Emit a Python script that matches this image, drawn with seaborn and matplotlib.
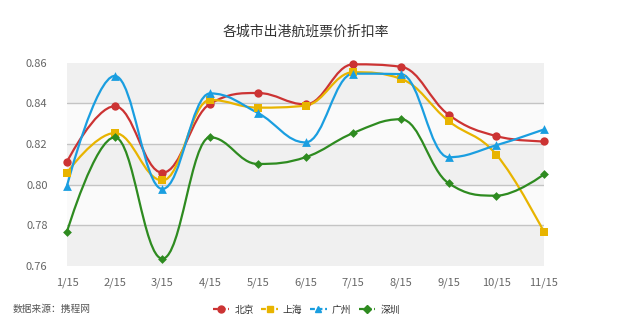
import numpy as np
import pandas as pd
import seaborn as sns
import matplotlib
matplotlib.use("Agg")
import matplotlib.pyplot as plt
from matplotlib.path import Path
from matplotlib.patches import PathPatch
from matplotlib.lines import Line2D

# ---- data -------------------------------------------------------------
months = ["1/15", "2/15", "3/15", "4/15", "5/15", "6/15",
          "7/15", "8/15", "9/15", "10/15", "11/15"]
cities = ["北京", "上海", "广州", "深圳"]
beijing = [0.8113, 0.8386, 0.8059, 0.8398, 0.8451, 0.8395,
           0.8592, 0.8580, 0.8344, 0.8239, 0.8213]
shanghai = [0.8059, 0.8254, 0.8021, 0.8417, 0.8379, 0.8389,
            0.8553, 0.8521, 0.8313, 0.8148, 0.7767]
guangzhou = [0.7994, 0.8535, 0.7979, 0.8449, 0.8353, 0.8208,
             0.8546, 0.8544, 0.8135, 0.8194, 0.8272]
shenzhen = [0.7769, 0.8233, 0.7636, 0.8233, 0.8102, 0.8135,
            0.8254, 0.8322, 0.8007, 0.7946, 0.8051]
y_ticks = [0.76, 0.78, 0.80, 0.82, 0.84, 0.86]

series = dict(zip(cities, [beijing, shanghai, guangzhou, shenzhen]))
colors = {"北京": "#cc3333", "上海": "#e8b400", "广州": "#1a9ee0", "深圳": "#2e8b20"}
markers = {"北京": "o", "上海": "s", "广州": "^", "深圳": "D"}
msize = {"北京": 36, "上海": 34, "广州": 40, "深圳": 20}

df = pd.DataFrame(
    [(i, m, c, v) for c in cities for i, (m, v) in enumerate(zip(months, series[c]))],
    columns=["idx", "month", "city", "rate"],
)

# ---- style ------------------------------------------------------------
sns.set_theme(style="white")
plt.rcParams["font.family"] = ["Noto Sans CJK SC", "DejaVu Sans"]


def spline_path(xs, ys, smoothing=1.5):
    """Smooth cubic Bezier path through the points (no overshoot)."""
    n = len(xs)
    denom = smoothing + 1
    right = [None] * n
    verts = [(xs[0], ys[0])]
    codes = [Path.MOVETO]
    for i in range(1, n):
        px, py = xs[i], ys[i]
        lcx, lcy = px, py
        if i < n - 1:
            lx, ly = xs[i - 1], ys[i - 1]
            nx, ny = xs[i + 1], ys[i + 1]
            lcx = (smoothing * px + lx) / denom
            lcy = (smoothing * py + ly) / denom
            rcx = (smoothing * px + nx) / denom
            rcy = (smoothing * py + ny) / denom
            corr = 0.0
            if rcx != lcx:
                corr = (rcy - lcy) * (rcx - px) / (rcx - lcx) + py - rcy
            lcy += corr
            rcy += corr
            if lcy > ly and lcy > py:
                lcy = max(ly, py)
                rcy = 2 * py - lcy
            elif lcy < ly and lcy < py:
                lcy = min(ly, py)
                rcy = 2 * py - lcy
            if rcy > ny and rcy > py:
                rcy = max(ny, py)
                lcy = 2 * py - rcy
            elif rcy < ny and rcy < py:
                rcy = min(ny, py)
                lcy = 2 * py - rcy
            right[i] = (rcx, rcy)
        prev = right[i - 1] if right[i - 1] is not None else (xs[i - 1], ys[i - 1])
        verts += [prev, (lcx, lcy), (px, py)]
        codes += [Path.CURVE4] * 3
    return Path(verts, codes)


fig = plt.figure(figsize=(6.25, 3.35), dpi=100)
ax = fig.add_axes([0.1072, 0.206, 0.7632, 0.6068])

# alternating horizontal bands
band_cols = ["#f0f0f0", "#fafafa", "#f0f0f0", "#fafafa", "#f0f0f0"]
for k in range(len(y_ticks) - 1):
    ax.axhspan(y_ticks[k], y_ticks[k + 1], color=band_cols[k], lw=0, zorder=0)
for t in y_ticks[1:-1]:
    ax.axhline(t, color="#c4c4c4", lw=1.0, zorder=1)

# smooth lines
for c in cities:
    sub = df[df.city == c]
    p = spline_path(sub["idx"].to_numpy(float), sub["rate"].to_numpy(float))
    ax.add_patch(PathPatch(p, facecolor="none", edgecolor=colors[c],
                           lw=1.6, zorder=3, clip_on=False))

# point markers
for c in cities:
    sub = df[df.city == c]
    sns.scatterplot(data=sub, x="idx", y="rate", color=colors[c],
                    marker=markers[c], s=msize[c], linewidth=0,
                    ax=ax, zorder=4, clip_on=False, legend=False)

ax.set_xlim(0, len(months) - 1)
ax.set_ylim(y_ticks[0], y_ticks[-1])
ax.set_xticks(range(len(months)))
ax.set_xticklabels(months)
ax.set_yticks(y_ticks)
ax.set_yticklabels([f"{t:.2f}" for t in y_ticks])
ax.tick_params(axis="both", length=0, labelsize=8, labelcolor="#666666")
ax.tick_params(axis="x", pad=8)
ax.tick_params(axis="y", pad=14)
ax.set_xlabel("")
ax.set_ylabel("")
for s in ax.spines.values():
    s.set_visible(False)

fig.text(0.49, 0.905, "各城市出港航班票价折扣率", ha="center", va="center",
         fontsize=10, color="#333333")
fig.text(0.02, 0.078, "数据来源：携程网", ha="left", va="center",
         fontsize=7, color="#555555")

handles = [Line2D([0], [0], color=colors[c], lw=1.6, marker=markers[c],
                  markersize=5 if c != "深圳" else 4, linestyle="--",
                  dashes=(2.2, 1.2))
           for c in cities]
fig.legend(handles, cities, loc="center", bbox_to_anchor=(0.49, 0.075),
           ncol=4, frameon=False, fontsize=7, handlelength=1.7,
           handletextpad=0.5, columnspacing=0.8, labelcolor="#333333")

fig.savefig("out.png", dpi=100, facecolor="white")
